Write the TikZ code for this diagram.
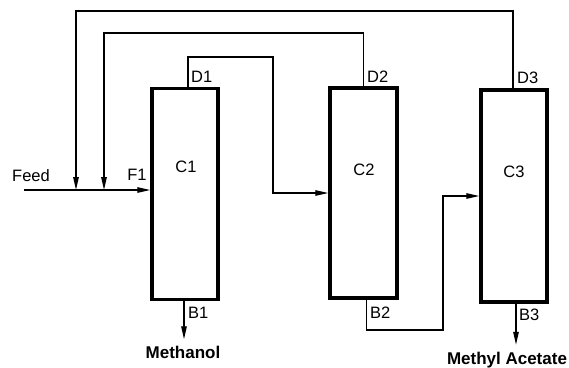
\documentclass[tikz,border=0pt]{standalone}
\usepackage{fontspec}
\setmainfont{Liberation Sans}
\usetikzlibrary{arrows.meta, positioning}
\tikzset{
  colblock/.style={rectangle, draw=black, line width=3.5pt, inner sep=0pt},
  colstream/.style={draw=black, line width=1.3pt},
  colarrow/.style={colstream, -{Triangle[length=13pt, width=5.5pt]}},
  collabel/.style={inner sep=0pt, font=\fontsize{16.5}{18}\selectfont},
  colprod/.style={collabel, font=\fontsize{17}{19}\selectfont\bfseries},
}
\begin{document}
\begin{tikzpicture}[x=1pt, y=-1pt]
  \useasboundingbox (0,0) rectangle (569,367);
  % columns
  \node[colblock, minimum width=66pt, minimum height=211pt] (c1) at (185, 194) {};
  \node[colblock, minimum width=67pt, minimum height=210pt] (c2) at (363.5, 193) {};
  \node[colblock, minimum width=66pt, minimum height=212pt] (c3) at (514, 196) {};
  \node[collabel] (c1lab) at (186, 167) {C1};
  \node[collabel] (c2lab) at (364, 170) {C2};
  \node[collabel] (c3lab) at (514, 172) {C3};
  % stream labels
  \node[collabel, anchor=west] (d1) at (191, 77) {D1};
  \node[collabel, anchor=west] (d2) at (367, 77) {D2};
  \node[collabel, anchor=west] (d3) at (517, 78) {D3};
  \node[collabel, anchor=west] (b1) at (188, 313) {B1};
  \node[collabel, anchor=west] (b2) at (370, 313) {B2};
  \node[collabel, anchor=west] (b3) at (519, 315) {B3};
  \node[collabel] (f1) at (137, 175) {F1};
  \node[collabel] (feedlab) at (31, 176) {Feed};
  \node[colprod] (meoh) at (183, 352) {Methanol};
  \node[colprod] (meac) at (507, 360) {Methyl Acetate};
  % feed and recycles
  \coordinate (feed) at (24, 190);
  \coordinate (rec3) at (76, 190);
  \coordinate (rec2) at (104, 190);
  \draw[colarrow] (feed) -- (feed -| c1.west);
  \draw[colarrow] ([xshift=-1pt]c3.north) |- (76, 11) -- (rec3);
  \draw[colarrow] (c2.north) |- (104, 33) -- (rec2);
  % column to column
  \draw[colarrow] ([xshift=3pt]c1.north) |- (273, 57) |- (c2.west);
  \draw[colarrow] ([xshift=3pt]c2.south) |- (443, 330) |- (c3.west);
  % products
  \draw[colarrow] ([xshift=-1pt]c1.south) -- ++(0, 38);
  \draw[colarrow] ([xshift=2pt]c3.south) -- ++(0, 41);
\end{tikzpicture}
\end{document}
